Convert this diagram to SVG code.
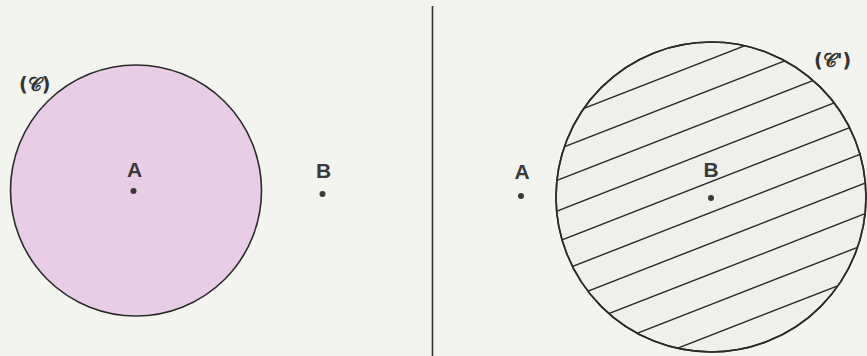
<svg xmlns="http://www.w3.org/2000/svg" width="867" height="356" viewBox="0 0 867 356">
  <defs>
    <style>
      .bg { fill: #f3f3ef; }
      .circ { stroke: #2a2a2a; stroke-width: 1.6; }
      .hatch { stroke: #2a2a2a; stroke-width: 1.4; fill: none; }
      .pt { fill: #3a3a3a; }
      .lbl { font-family: "Liberation Sans", "DejaVu Sans", sans-serif; font-weight: bold; font-size: 21px; fill: #3a3a3a; text-anchor: middle; }
      .name { font-family: "DejaVu Sans", "Noto Sans", "Liberation Serif", serif; font-weight: bold; font-size: 19px; fill: #333; }
    </style>
    <clipPath id="clipC2">
      <circle cx="711" cy="197" r="155"/>
    </clipPath>
  </defs>
  <rect class="bg" x="0" y="0" width="867" height="356"/>

  <g id="separator">
    <line x1="432.5" y1="6" x2="432.5" y2="356" stroke="#333" stroke-width="1.6"/>
  </g>

  <g id="circleC">
    <circle class="circ" cx="136" cy="190.5" r="125.5" fill="#e9cde6"/>
    <text class="name" x="19" y="91">(𝒞)</text>
  </g>

  <g id="pointA1">
    <text class="lbl" x="134.5" y="177">A</text>
    <circle class="pt" cx="133.5" cy="191" r="3"/>
  </g>

  <g id="pointB1">
    <text class="lbl" x="323.5" y="178">B</text>
    <circle class="pt" cx="322.5" cy="194" r="3"/>
  </g>

  <g id="circleC2">
    <circle class="circ" cx="711" cy="197" r="155" fill="#efefeb"/>
    <g clip-path="url(#clipC2)" class="hatch">
      <line x1="540" y1="125.6" x2="880" y2="-7"/>
      <line x1="540" y1="156.3" x2="880" y2="23.7"/>
      <line x1="540" y1="187" x2="880" y2="54.4"/>
      <line x1="540" y1="217.7" x2="880" y2="85.1"/>
      <line x1="540" y1="248.4" x2="880" y2="115.8"/>
      <line x1="540" y1="279.1" x2="880" y2="146.5"/>
      <line x1="540" y1="309.8" x2="880" y2="177.2"/>
      <line x1="540" y1="340.5" x2="880" y2="207.9"/>
      <line x1="540" y1="371.2" x2="880" y2="238.6"/>
      <line x1="540" y1="401.9" x2="880" y2="269.3"/>
    </g>
    <circle class="circ" cx="711" cy="197" r="155" fill="none"/>
    <text class="name" x="814" y="67">(𝒞')</text>
  </g>

  <g id="pointA2">
    <text class="lbl" x="522" y="179">A</text>
    <circle class="pt" cx="521" cy="196" r="3"/>
  </g>

  <g id="pointB2">
    <text class="lbl" x="711" y="177">B</text>
    <circle class="pt" cx="711" cy="198" r="3"/>
  </g>
</svg>
